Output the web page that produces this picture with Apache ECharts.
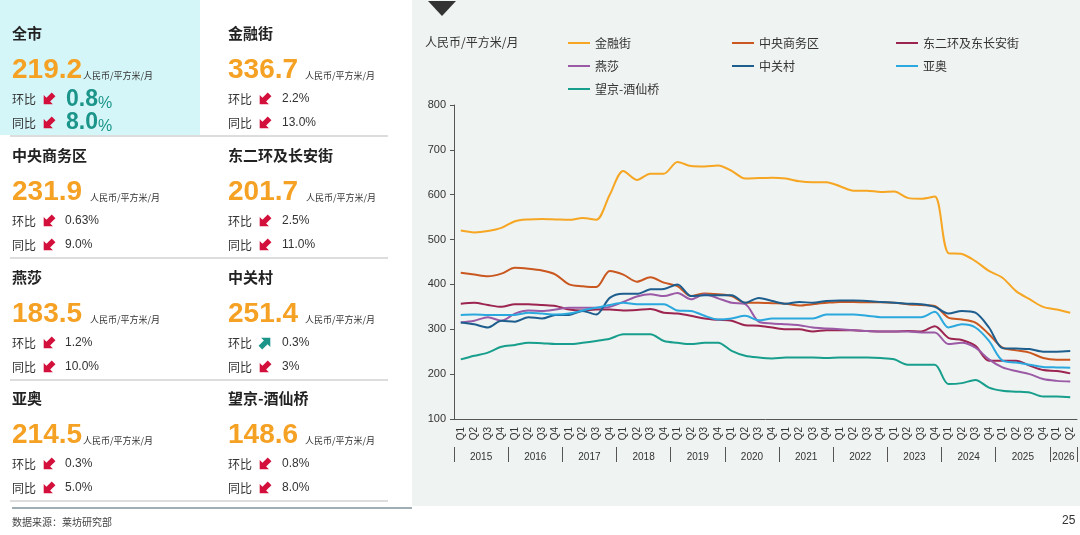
<!DOCTYPE html>
<html>
<head>
<meta charset="utf-8">
<script src="https://cdn.jsdelivr.net/npm/echarts@6.0.0/dist/echarts.min.js"></script>
<style>
  html, body { margin: 0; padding: 0; background: #fff; }
  #main { width: 1080px; height: 535px; }
</style>
</head>
<body>
<div id="main"></div>
<script>
// 季度 / 年份
var quarters = [];
var years = ['2015', '2016', '2017', '2018', '2019', '2020', '2021', '2022', '2023', '2024', '2025', '2026'];
years.forEach(function(y) {
	var n = y === '2026' ? 2 : 4;
	for (var q = 1; q <= n; q++) quarters.push('Q' + q);
});
var yearTicks = [0, 4, 8, 12, 16, 20, 24, 28, 32, 36, 40, 44, 46];
var yearLabelPos = [2, 6, 10, 14, 18, 22, 26, 30, 34, 38, 42, 45];

// 各区域租金 人民币/平方米/月
var seriesNames = ['金融街', '中央商务区', '东二环及东长安街', '燕莎', '中关村', '亚奥', '望京-酒仙桥'];
var jinrongjie = [520, 516, 519, 526, 541, 545, 546, 545, 544, 548, 544, 600, 653, 633, 647, 647, 673, 664, 663, 665, 653, 636, 637, 638, 636, 630, 628, 628, 619, 609, 609, 606, 607, 593, 591, 596, 470, 468, 452, 430, 415, 385, 367, 350, 344, 336.7];
var cbd = [426, 422, 418, 424, 437, 435, 431, 422, 400, 396, 394, 430, 422, 406, 416, 404, 396, 374, 380, 378, 374, 359, 359, 358, 357, 353, 356, 359, 361, 361, 360, 360, 359, 356, 354, 352, 326, 322, 315, 289, 259, 253, 248, 236, 232, 231.9];
var dongerhuan = [357, 359, 354, 350, 356, 356, 354, 352, 344, 342, 344, 344, 342, 343, 345, 337, 335, 330, 324, 321, 319, 309, 308, 304, 300, 300, 295, 298, 298, 298, 296, 295, 295, 296, 295, 307, 281, 276, 263, 230, 230, 230, 219, 209, 207, 201.7];
var yansha = [315, 319, 327, 319, 335, 342, 341, 344, 348, 348, 348, 350, 361, 373, 378, 374, 381, 367, 378, 369, 359, 356, 317, 313, 311, 309, 304, 302, 300, 298, 296, 295, 295, 295, 293, 293, 267, 270, 259, 233, 215, 207, 200, 189, 185, 183.5];
var zhongguancun = [315, 311, 304, 319, 317, 327, 324, 332, 332, 341, 333, 370, 379, 379, 389, 390, 400, 374, 376, 376, 376, 359, 370, 363, 357, 361, 359, 363, 364, 364, 363, 361, 359, 357, 356, 350, 335, 341, 337, 304, 258, 257, 256, 250, 250, 251.4];
var yaao = [332, 333, 332, 332, 332, 337, 335, 333, 335, 342, 348, 354, 359, 356, 356, 356, 342, 341, 330, 322, 324, 330, 320, 324, 324, 324, 324, 333, 333, 333, 330, 327, 327, 327, 327, 339, 304, 311, 304, 274, 230, 226, 221, 216, 215, 214.5];
var wangjing = [233, 241, 248, 261, 265, 270, 269, 267, 267, 270, 274, 279, 289, 289, 289, 274, 270, 267, 270, 270, 252, 241, 237, 235, 237, 237, 237, 236, 237, 237, 237, 236, 233, 221, 221, 221, 178, 180, 187, 170, 163, 161, 159, 150, 150, 148.6];
var seriesData = [jinrongjie, cbd, dongerhuan, yansha, zhongguancun, yaao, wangjing];
var seriesColors = ['#F6A623', '#C9571F', '#9C2450', '#9B5AA6', '#1E5E8E', '#2BA8DE', '#179E8C'];

// 左侧指标
var districts = ['全市', '金融街', '中央商务区', '东二环及长安街', '燕莎', '中关村', '亚奥', '望京-酒仙桥'];
var rents = ['219.2', '336.7', '231.9', '201.7', '183.5', '251.4', '214.5', '148.6'];
var qoq = ['0.8', '2.2', '0.63', '2.5', '1.2', '0.3', '0.3', '0.8'];
var yoy = ['8.0', '13.0', '9.0', '11.0', '10.0', '3', '5.0', '8.0'];
var qoqUp = [false, false, false, false, false, true, false, false];
var yoyUp = [false, false, false, false, false, false, false, false];

var CJK = '"Noto Sans CJK SC", sans-serif';
var LAT = '"Liberation Sans", Arial, sans-serif';
var ORANGE = '#F5A124';
var RED = '#D3103C';
var TEAL = '#1B958A';

function txt(x, y, text, size, color, bold, family, align) {
	return {
		type: 'text', x: x, y: y, z: 10,
		style: {
			text: text, fill: color, fontSize: size, fontFamily: family || CJK,
			fontWeight: bold ? 'bold' : 'normal', align: align || 'left', verticalAlign: 'middle'
		}
	};
}

function arrow(x, y, up) {
	return {
		type: 'polygon', x: x, y: y, z: 10,
		rotation: up ? -Math.PI / 4 : Math.PI * 3 / 4,
		shape: { points: [[0, -7.5], [6.5, -1], [2.6, -1], [2.6, 6.5], [-2.6, 6.5], [-2.6, -1], [-6.5, -1]] },
		style: { fill: up ? TEAL : RED }
	};
}

var graphics = [
	{ type: 'rect', z: -10, shape: { x: 412, y: 0, width: 668, height: 506 }, style: { fill: '#EFF3F1' } },
	{ type: 'rect', z: -10, shape: { x: 0, y: 0, width: 200, height: 135 }, style: { fill: '#D5F6F8' } },
	{ type: 'polygon', z: 10, shape: { points: [[428, 1], [456, 1], [442, 16]] }, style: { fill: '#333' } },
	{ type: 'line', z: 10, shape: { x1: 12, y1: 508, x2: 412, y2: 508 }, style: { stroke: '#3E5B68', lineWidth: 1 } },
	txt(425, 42, '人民币/平方米/月', 12, '#333'),
	txt(12, 522, '数据来源：莱坊研究部', 10, '#444'),
	txt(1062, 521, '25', 12, '#333', false, LAT)
];

var cellCols = [12, 228];
var cellRows = [0, 122, 244, 365];
var unitGap = [71, 77, 78, 78, 78, 77, 71, 77];
districts.forEach(function(name, i) {
	var x = cellCols[i % 2];
	var y0 = cellRows[Math.floor(i / 2)];
	graphics.push(txt(x, y0 + 33, name, 15, '#222', true));
	graphics.push(txt(x, y0 + 70, rents[i], 28, ORANGE, true, LAT));
	graphics.push(txt(x + unitGap[i], y0 + 76, '人民币/平方米/月', 9, '#333'));
	graphics.push(txt(x, y0 + 99, '环比', 12, '#333'));
	graphics.push(txt(x, y0 + 123, '同比', 12, '#333'));
	graphics.push(arrow(x + 37, y0 + 99, qoqUp[i]));
	graphics.push(arrow(x + 37, y0 + 123, yoyUp[i]));
	if (i === 0) {
		[[qoq[i], y0 + 100], [yoy[i], y0 + 123]].forEach(function(p) {
			graphics.push({
				type: 'text', x: x + 54, y: p[1], z: 10,
				style: {
					text: '{a|' + p[0] + '}{b|%}', verticalAlign: 'middle',
					rich: {
						a: { fontSize: 23, fontWeight: 'bold', fontFamily: LAT, fill: TEAL, color: TEAL },
						b: { fontSize: 16, fontFamily: LAT, fill: TEAL, color: TEAL, verticalAlign: 'bottom', padding: [4, 0, 0, 0] }
					}
				}
			});
		});
	} else {
		graphics.push(txt(x + (i % 2 ? 54 : 53), y0 + 99, qoq[i] + '%', 12, '#333', false, LAT));
		graphics.push(txt(x + (i % 2 ? 54 : 53), y0 + 123, yoy[i] + '%', 12, '#333', false, LAT));
	}
	if (i % 2 === 0) {
		graphics.push({
			type: 'line', z: 10,
			shape: { x1: 10, y1: y0 + 136, x2: 388, y2: y0 + 136 },
			style: { stroke: '#D2D2D2', lineWidth: 1.5 }
		});
	}
});

var chart = echarts.init(document.getElementById('main'));
var option = {
	backgroundColor: '#fff',
	animation: false,
	color: seriesColors,
	textStyle: { fontFamily: CJK },
	graphic: graphics,
	legend: {
		data: seriesNames,
		left: 563,
		top: 27,
		width: 500,
		icon: 'rect',
		itemWidth: 22,
		itemHeight: 2,
		itemGap: 1,
		textStyle: { fontSize: 12, color: '#333', width: 136, lineHeight: 22, fontFamily: CJK }
	},
	grid: { left: 454, right: 3, top: 105, bottom: 116, containLabel: false },
	xAxis: [{
		type: 'category',
		data: quarters,
		boundaryGap: true,
		axisLine: { lineStyle: { color: '#555' } },
		axisTick: { interval: 0, length: 28, lineStyle: { color: '#555' } },
		axisLabel: { interval: 0, rotate: 90, fontSize: 10, color: '#333', margin: 8, fontFamily: LAT }
	}, {
		type: 'value',
		position: 'bottom',
		offset: 28,
		min: 0,
		max: 46,
		axisLine: { show: false },
		splitLine: { show: false },
		axisTick: { show: true, length: 15, customValues: yearTicks, lineStyle: { color: '#555' } },
		axisLabel: {
			customValues: yearLabelPos,
			fontSize: 10, color: '#333', margin: 5, fontFamily: LAT,
			formatter: function(v) { return years[Math.floor(v / 4)]; }
		}
	}],
	yAxis: {
		type: 'value',
		min: 100,
		max: 800,
		interval: 100,
		axisLine: { show: true, lineStyle: { color: '#555' } },
		axisTick: { show: true, length: 4, lineStyle: { color: '#555' } },
		splitLine: { show: false },
		axisLabel: { fontSize: 11, color: '#333', margin: 8, fontFamily: LAT }
	},
	series: seriesNames.map(function(name, i) {
		return {
			name: name,
			type: 'line',
			xAxisIndex: 0,
			data: seriesData[i],
			smooth: 0.3,
			symbol: 'none',
			lineStyle: { width: 2, color: seriesColors[i] },
			itemStyle: { color: seriesColors[i] }
		};
	})
};
chart.setOption(option);
</script>
</body>
</html>
